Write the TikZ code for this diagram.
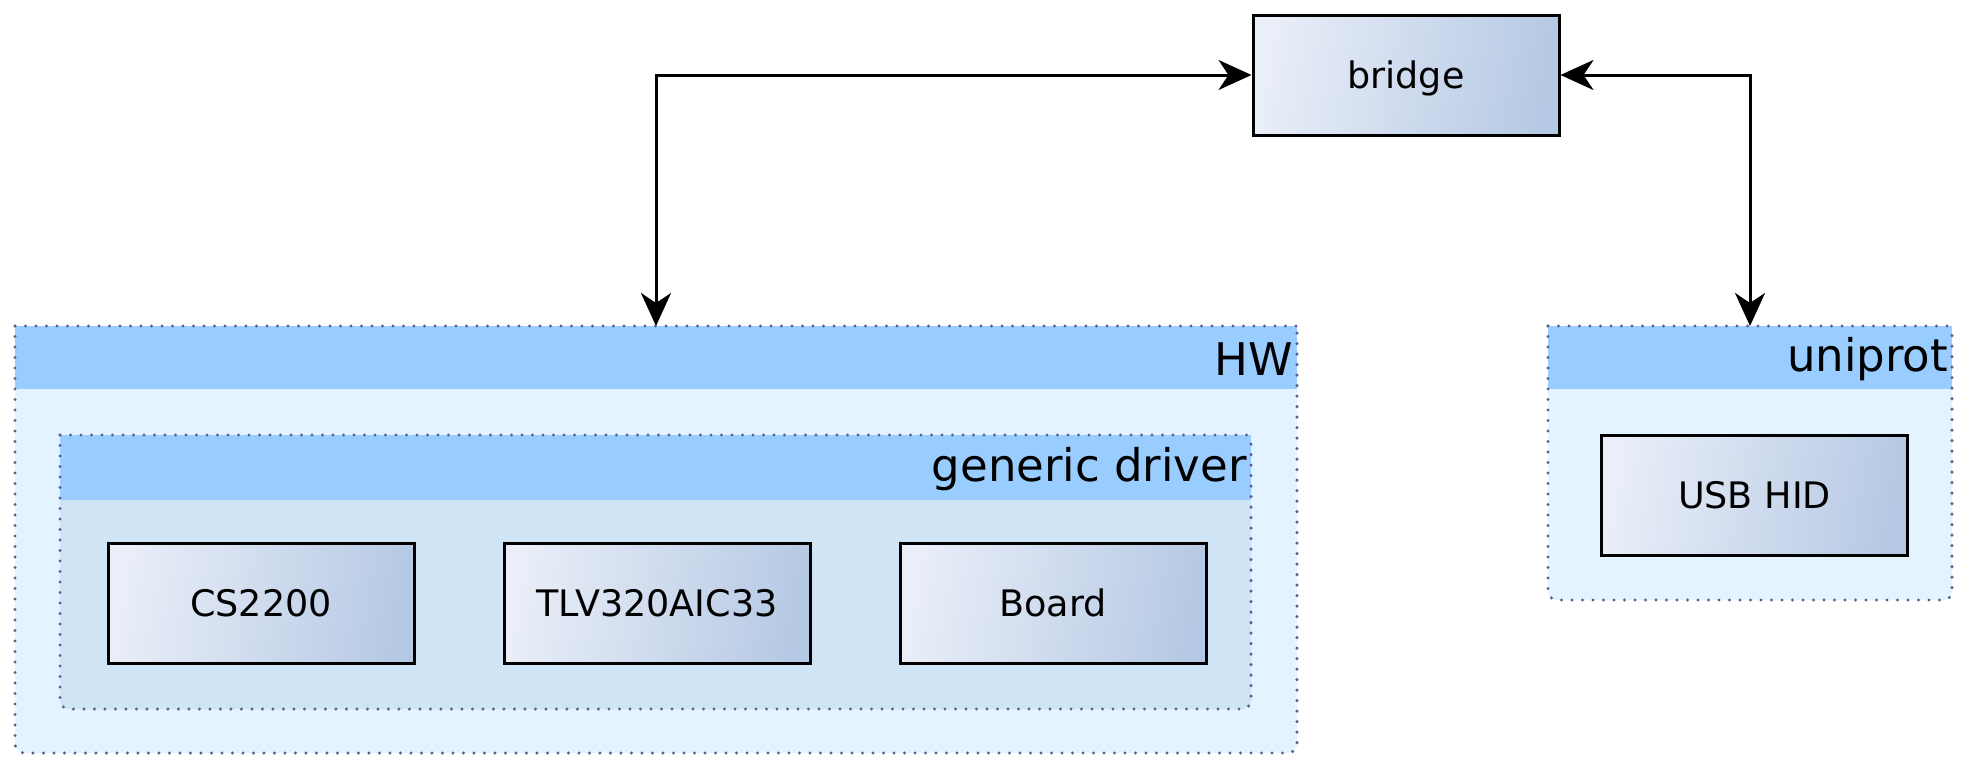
\documentclass[tikz,border=0pt]{standalone}
\usepackage{fontspec}
\setmainfont{DejaVu Sans}
\usetikzlibrary{arrows.meta,calc}
\definecolor{boxL}{HTML}{E9EEF8}
\definecolor{boxR}{HTML}{B6C9E4}
\definecolor{hdrc}{HTML}{99CCFF}
\definecolor{outerc}{HTML}{E3F3FF}
\definecolor{innerc}{HTML}{CFE5F5}
\definecolor{dotc}{HTML}{60608F}
\newcommand\mygrp[8]{%
  \path (#2,#3) coordinate (#1-nw) (#4,#5) coordinate (#1-se)
        ($(#2,#3)!0.5!(#4,#3)$) coordinate (#1-top);
  \fill[#7, rounded corners=9pt] (#1-nw) rectangle (#1-se);
  \fill[hdrc] (#2,#3) rectangle (#4,#6);
  \draw[dotb, rounded corners=9pt] (#2,#3) -- (#2,#5) -- (#4,#5) -- (#4,#3);
  \draw[dotb] (#2,#3) -- (#4,#3);
  \node[hdr] (#1-lbl) at ($(#4,#3)!0.5!(#4,#6)+(0,2)$) {#8};
}
\begin{document}
\begin{tikzpicture}[x=1pt,y=-1pt,
  blk/.style={draw=black, line width=3pt, left color=boxL, right color=boxR,
    shading angle=80,
    minimum width=306pt, minimum height=120pt, inner sep=0pt,
    text height=26.5pt, text depth=0pt,
    font=\fontsize{36.5}{42}\selectfont},
  lnk/.style={line width=3pt,
    {Stealth[length=33pt,width=30pt,inset=10pt]}-{Stealth[length=33pt,width=30pt,inset=10pt]}},
  dotb/.style={draw=dotc, line width=3.4pt, line cap=round, dash pattern=on 0pt off 10.5pt},
  hdr/.style={font=\fontsize{45}{50}\selectfont, anchor=east, inner sep=4pt}]
\useasboundingbox (0,0) rectangle (1968,771);

\mygrp{hw}{15}{326}{1297}{753}{389}{outerc}{HW}
\mygrp{gd}{60}{435}{1251}{709}{500}{innerc}{generic driver}
\mygrp{up}{1548}{326}{1952}{600}{389}{outerc}{uniprot}

\node[blk] (bridge) at (1406,75) {bridge};
\node[blk] (cs) at (261,603.5) {CS2200};
\node[blk] (tlv) at (657,603.5) {TLV320AIC33};
\node[blk] (board) at (1053,603.5) {Board};
\node[blk] (usb) at (1754.5,495) {USB HID};

\draw[lnk] (bridge.west) -| (hw-top);
\draw[lnk] (bridge.east) -| (up-top);
\end{tikzpicture}
\end{document}
